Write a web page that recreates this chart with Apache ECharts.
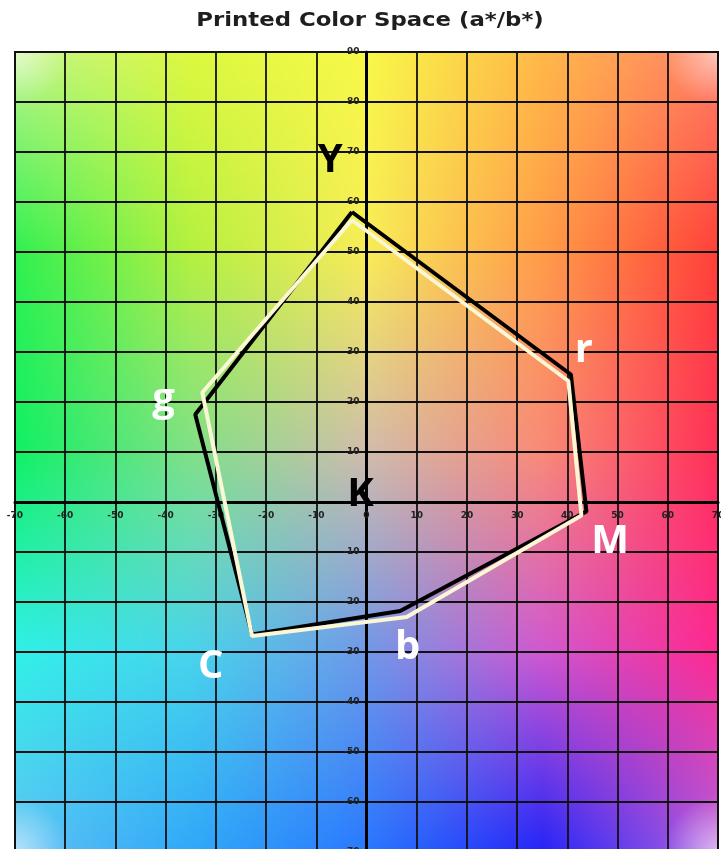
<!DOCTYPE html>
<html>
<head>
<meta charset="utf-8">
<script src="https://cdn.jsdelivr.net/npm/echarts@6/dist/echarts.min.js"></script>
<style>
  html, body { margin: 0; padding: 0; background: #fff; }
  #chart { width: 721px; height: 849px; }
</style>
</head>
<body>
<div id="chart"></div>
<script>
// outer (black) gamut polygon, a* / b*
const outerA = [-2.9, 40.7, 43.8, 6.7, -22.8, -34.1];
const outerB = [58.0, 25.5, -1.9, -21.8, -26.5, 17.5];
// inner (cream) gamut polygon
const innerA = [-2.9, 40.2, 42.8, 8.0, -22.8, -32.7];
const innerB = [56.4, 24.2, -2.7, -23.0, -26.8, 21.9];

// corner labels
const labelNames = ['Y', 'r', 'M', 'b', 'C', 'g', 'K'];
const labelA = [-7.2, 43.3, 48.5, 8.2, -31.0, -40.4, -1.2];
const labelB = [68.2, 30.2, -8.0, -29.2, -33.0, 20.4, 1.4];
const labelDark = [true, false, false, false, false, false, true];

// axis ranges and tick labels
const aMin = -70, aMax = 70;
const bMin = -70, bMax = 90;
const aTicks = [-70, -60, -50, -40, -30, -20, -10, 0, 10, 20, 30, 40, 50, 60, 70];
const bTicks = [90, 80, 70, 60, 50, 40, 30, 20, 10, -10, -20, -30, -40, -50, -60, -70];

// background colour samples (rows b = 90, 50, 10, -30, -70; cols a = -70, -35, 0, 35, 70)
const bgRows = [
  ['#c0f48c', '#dcf840', '#f8f848', '#ffb848', '#ff8068'],
  ['#30f050', '#b4f040', '#f8ec58', '#ff9c48', '#ff4038'],
  ['#10f064', '#80e088', '#d0bcac', '#f88a78', '#ff3058'],
  ['#30f0e8', '#48d4ec', '#7098e8', '#d058d0', '#ff2890'],
  ['#60c0f4', '#30a8f8', '#2878ff', '#2424f8', '#b060e0']
];

const gridLeft = 15, gridTop = 52, gridW = 703, gridH = 800;

function hexToRgb(h) {
  return [parseInt(h.slice(1, 3), 16), parseInt(h.slice(3, 5), 16), parseInt(h.slice(5, 7), 16)];
}

function makeBackground() {
  const cv = document.createElement('canvas');
  cv.width = gridW;
  cv.height = gridH;
  const ctx = cv.getContext('2d');
  const img = ctx.createImageData(gridW, gridH);
  const rows = bgRows.map(r => r.map(hexToRgb));
  const nr = rows.length - 1, nc = rows[0].length - 1;
  for (let y = 0; y < gridH; y++) {
    const fy = y / (gridH - 1) * nr;
    const iy = Math.min(Math.floor(fy), nr - 1), ty = fy - iy;
    for (let x = 0; x < gridW; x++) {
      const fx = x / (gridW - 1) * nc;
      const ix = Math.min(Math.floor(fx), nc - 1), tx = fx - ix;
      const p = (y * gridW + x) * 4;
      for (let k = 0; k < 3; k++) {
        const top = rows[iy][ix][k] * (1 - tx) + rows[iy][ix + 1][k] * tx;
        const bot = rows[iy + 1][ix][k] * (1 - tx) + rows[iy + 1][ix + 1][k] * tx;
        img.data[p + k] = top * (1 - ty) + bot * ty;
      }
      img.data[p + 3] = 255;
    }
  }
  ctx.putImageData(img, 0, 0);
  // soft white fade in the corners
  [[0, 0], [gridW, 0], [0, gridH], [gridW, gridH]].forEach(([cx, cy]) => {
    const g = ctx.createRadialGradient(cx, cy, 0, cx, cy, 55);
    g.addColorStop(0, 'rgba(255,255,255,0.55)');
    g.addColorStop(1, 'rgba(255,255,255,0)');
    ctx.fillStyle = g;
    ctx.fillRect(0, 0, gridW, gridH);
  });
  return cv;
}

function closed(xs, ys) {
  const pts = xs.map((a, i) => [a, ys[i]]);
  pts.push(pts[0]);
  return pts;
}

const tickFont = { fontSize: 9, fontWeight: 'bold', color: '#222', fontFamily: 'DejaVu Sans' };

const chart = echarts.init(document.getElementById('chart'));
const option = {
  animation: false,
  graphic: [
    {
      type: 'image',
      left: gridLeft,
      top: gridTop,
      z: -10,
      silent: true,
      style: { image: makeBackground(), width: gridW, height: gridH }
    },
    {
      type: 'text',
      x: 370,
      y: 21,
      scaleX: 1.2,
      silent: true,
      style: {
        text: 'Printed Color Space (a*/b*)',
        font: 'bold 19px "DejaVu Sans"',
        fill: '#1e1e1e',
        textAlign: 'center',
        textVerticalAlign: 'middle'
      }
    }
  ],
  grid: {
    left: gridLeft, top: gridTop, width: gridW, height: gridH,
    outerBoundsMode: 'none', containLabel: false,
    show: true, borderColor: '#111', borderWidth: 2
  },
  xAxis: {
    type: 'value', min: aMin, max: aMax, interval: 10,
    axisLine: { onZero: true, lineStyle: { color: '#000', width: 3 } },
    axisTick: { show: false },
    splitLine: { lineStyle: { color: '#111', width: 1.8 } },
    axisLabel: { show: false }
  },
  yAxis: {
    type: 'value', min: bMin, max: bMax, interval: 10,
    axisLine: { onZero: true, lineStyle: { color: '#000', width: 3 } },
    axisTick: { show: false },
    splitLine: { lineStyle: { color: '#111', width: 1.8 } },
    axisLabel: { show: false }
  },
  series: [
    {
      type: 'scatter', symbolSize: 0, silent: true, z: 2,
      itemStyle: { opacity: 1 },
      data: aTicks.map(v => [v, 0]),
      label: Object.assign({ show: true, position: 'bottom', distance: 9, formatter: p => String(p.value[0]) }, tickFont)
    },
    {
      type: 'scatter', symbolSize: 0, silent: true, z: 2,
      itemStyle: { opacity: 1 },
      data: bTicks.map(v => [0, v]),
      label: Object.assign({ show: true, position: 'left', distance: 7, formatter: p => String(p.value[1]) }, tickFont)
    },
    {
      type: 'line', data: closed(outerA, outerB), symbol: 'none', silent: true,
      lineStyle: { color: '#000', width: 4 }, z: 3
    },
    {
      type: 'line', data: closed(innerA, innerB), symbol: 'none', silent: true,
      lineStyle: { color: '#fbf7d4', width: 4 }, z: 4
    },
    {
      type: 'scatter', symbolSize: 0, z: 5, silent: true,
      itemStyle: { opacity: 1 },
      data: labelNames.map((n, i) => ({
        value: [labelA[i], labelB[i]],
        label: {
          show: true, position: 'inside', formatter: n, opacity: 1,
          fontFamily: 'Open Sans', fontWeight: 'bold', fontSize: 40,
          color: labelDark[i] ? '#000' : '#fff'
        }
      }))
    }
  ]
};
chart.setOption(option);
</script>
</body>
</html>
